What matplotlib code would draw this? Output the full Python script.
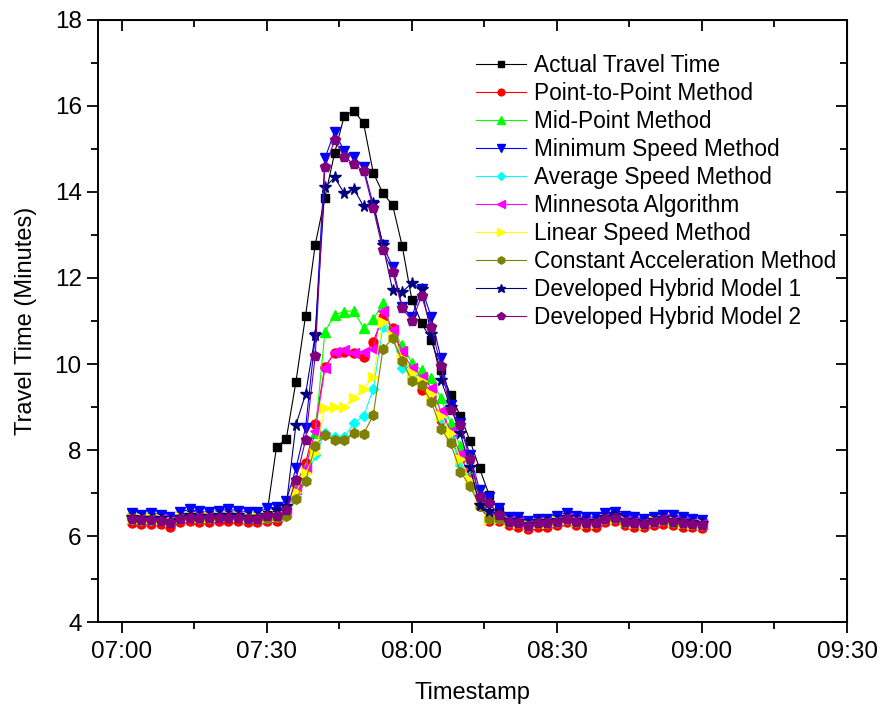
# -*- coding: utf-8 -*-
""" travel time comparison chart
"""

import numpy as np
import matplotlib
matplotlib.use("Agg")
import matplotlib.pyplot as plt
import matplotlib.ticker as ticker

plt.rcParams['font.family'] = ['Liberation Sans', 'DejaVu Sans']

# minutes after 07:00, one sample every 2 minutes (07:02 - 09:00)
minutes = np.arange(2, 121, 2)

tick_minutes = [0, 30, 60, 90, 120, 150]
minor_minutes = [15, 45, 75, 105, 135]
tick_labels = ["07:00", "07:30", "08:00", "08:30", "09:00", "09:30"]

actual = [6.44, 6.42, 6.41, 6.40, 6.36, 6.45, 6.48, 6.46, 6.46, 6.48, 6.48, 6.48, 6.45, 6.45,
          6.50, 8.08, 8.25, 9.58, 11.12, 12.77,
          13.87, 14.90, 15.77, 15.89, 15.60, 14.45, 13.97, 13.70,
          12.74, 11.49, 10.95, 10.56, 9.85, 9.28, 8.80, 8.22, 7.57, 6.95,
          6.58, 6.40, 6.37, 6.30, 6.36, 6.36, 6.39, 6.45, 6.39, 6.36, 6.36, 6.45, 6.48, 6.39,
          6.36, 6.34, 6.39, 6.42, 6.39, 6.36, 6.34, 6.32]
p2p = [6.31, 6.29, 6.29, 6.28, 6.22, 6.32, 6.35, 6.33, 6.33, 6.35, 6.35, 6.35, 6.32, 6.32,
       6.35, 6.36, 6.55, 7.19, 7.69, 8.60,
       9.94, 10.25, 10.29, 10.26, 10.17, 10.52, 11.10, 10.84,
       10.20, 9.70, 9.40, 9.25, 8.70, 8.30, 7.80, 7.30, 6.70, 6.35,
       6.36, 6.25, 6.22, 6.16, 6.22, 6.22, 6.25, 6.32, 6.25, 6.22, 6.22, 6.32, 6.35, 6.25,
       6.22, 6.20, 6.25, 6.29, 6.25, 6.22, 6.20, 6.18]
midpoint = [6.42, 6.40, 6.40, 6.39, 6.34, 6.43, 6.46, 6.44, 6.44, 6.46, 6.46, 6.46, 6.43, 6.43,
            6.45, 6.47, 6.60, 7.15, 7.61, 8.39,
            10.75, 11.14, 11.22, 11.24, 10.83, 11.04, 11.41, 10.75,
            10.44, 10.02, 9.86, 9.67, 9.20, 8.62, 8.10, 7.50, 6.90, 6.50,
            6.45, 6.36, 6.33, 6.27, 6.33, 6.33, 6.36, 6.42, 6.36, 6.33, 6.33, 6.42, 6.45, 6.36,
            6.33, 6.31, 6.36, 6.40, 6.36, 6.33, 6.31, 6.29]
min_speed = [6.53, 6.50, 6.53, 6.50, 6.45, 6.55, 6.62, 6.57, 6.55, 6.59, 6.62, 6.59, 6.55, 6.55,
             6.64, 6.68, 6.81, 7.57, 8.52, 10.63,
             14.78, 15.40, 14.95, 14.82, 14.57, 13.70, 12.77, 12.26,
             11.33, 11.10, 11.75, 11.10, 10.13, 9.05, 8.62, 7.88, 7.07, 6.90,
             6.65, 6.45, 6.44, 6.35, 6.39, 6.39, 6.47, 6.53, 6.47, 6.44, 6.44, 6.53, 6.56, 6.47,
             6.44, 6.40, 6.45, 6.50, 6.48, 6.45, 6.40, 6.37]
avg_speed = [6.40, 6.38, 6.38, 6.37, 6.32, 6.41, 6.44, 6.42, 6.42, 6.44, 6.44, 6.44, 6.41, 6.41,
             6.42, 6.44, 6.50, 6.90, 7.30, 7.88,
             8.40, 8.31, 8.31, 8.62, 8.79, 9.41, 10.87, 10.62,
             9.90, 9.75, 9.60, 9.30, 8.75, 8.30, 7.65, 7.20, 6.75, 6.45,
             6.42, 6.33, 6.30, 6.24, 6.30, 6.30, 6.33, 6.40, 6.33, 6.30, 6.30, 6.40, 6.43, 6.33,
             6.30, 6.28, 6.33, 6.37, 6.33, 6.30, 6.28, 6.26]
minnesota = [6.42, 6.40, 6.40, 6.39, 6.34, 6.43, 6.46, 6.44, 6.44, 6.46, 6.46, 6.46, 6.43, 6.43,
             6.44, 6.46, 6.55, 7.10, 7.57, 8.45,
             9.90, 10.29, 10.33, 10.26, 10.29, 10.36, 11.24, 10.80,
             10.30, 9.90, 9.70, 9.45, 8.90, 8.45, 7.90, 7.35, 6.80, 6.45,
             6.43, 6.35, 6.32, 6.26, 6.32, 6.32, 6.35, 6.41, 6.35, 6.32, 6.32, 6.41, 6.44, 6.35,
             6.32, 6.30, 6.35, 6.39, 6.35, 6.32, 6.30, 6.28]
linear_speed = [6.43, 6.41, 6.41, 6.40, 6.35, 6.44, 6.47, 6.45, 6.45, 6.47, 6.47, 6.47, 6.44, 6.44,
                6.45, 6.47, 6.50, 7.03, 7.46, 7.92,
                8.97, 8.99, 8.99, 9.20, 9.43, 9.70, 10.98, 10.65,
                10.15, 9.80, 9.60, 9.30, 8.80, 8.40, 7.80, 7.30, 6.75, 6.40,
                6.42, 6.34, 6.31, 6.25, 6.31, 6.31, 6.34, 6.40, 6.34, 6.31, 6.31, 6.40, 6.43, 6.34,
                6.31, 6.29, 6.34, 6.38, 6.34, 6.31, 6.29, 6.27]
const_accel = [6.41, 6.39, 6.39, 6.38, 6.33, 6.42, 6.45, 6.43, 6.43, 6.45, 6.45, 6.45, 6.42, 6.42,
               6.42, 6.44, 6.47, 6.85, 7.28, 8.10,
               8.35, 8.23, 8.23, 8.39, 8.37, 8.81, 10.34, 10.60,
               10.07, 9.61, 9.51, 9.12, 8.50, 8.16, 7.50, 7.16, 6.70, 6.40,
               6.40, 6.33, 6.30, 6.24, 6.30, 6.30, 6.33, 6.39, 6.33, 6.30, 6.30, 6.39, 6.42, 6.33,
               6.30, 6.28, 6.33, 6.37, 6.33, 6.30, 6.28, 6.26]
hybrid1 = [6.44, 6.42, 6.42, 6.41, 6.36, 6.45, 6.48, 6.46, 6.46, 6.48, 6.48, 6.48, 6.45, 6.45,
           6.50, 6.60, 6.70, 8.58, 9.30, 10.67,
           14.11, 14.34, 13.97, 14.07, 13.67, 13.75, 12.77, 11.72,
           11.68, 11.88, 11.74, 10.70, 9.63, 9.00, 8.39, 7.61, 6.72, 6.57,
           6.52, 6.38, 6.35, 6.28, 6.35, 6.35, 6.38, 6.45, 6.38, 6.35, 6.35, 6.45, 6.48, 6.38,
           6.35, 6.33, 6.38, 6.42, 6.38, 6.35, 6.33, 6.31]
hybrid2 = [6.39, 6.37, 6.37, 6.36, 6.31, 6.40, 6.43, 6.41, 6.41, 6.43, 6.43, 6.43, 6.40, 6.40,
           6.47, 6.47, 6.60, 7.30, 8.23, 10.19,
           14.57, 15.20, 14.82, 14.65, 14.49, 13.62, 12.65, 12.15,
           11.30, 11.00, 11.58, 10.87, 9.95, 8.93, 8.57, 7.78, 6.91, 6.76,
           6.49, 6.33, 6.30, 6.23, 6.30, 6.30, 6.33, 6.40, 6.33, 6.30, 6.30, 6.40, 6.43, 6.33,
           6.30, 6.28, 6.33, 6.37, 6.33, 6.30, 6.28, 6.26]

# (label, values, color, marker, size)
series = [
    ("Actual Travel Time", actual, "#000000", "s", 6),
    ("Point-to-Point Method", p2p, "#FF0000", "o", 6.5),
    ("Mid-Point Method", midpoint, "#00FF00", "^", 7),
    ("Minimum Speed Method", min_speed, "#0000FF", "v", 7),
    ("Average Speed Method", avg_speed, "#00FFFF", "D", 5.5),
    ("Minnesota Algorithm", minnesota, "#FF00FF", "<", 7),
    ("Linear Speed Method", linear_speed, "#FFFF00", ">", 7),
    ("Constant Acceleration Method", const_accel, "#808000", "h", 7),
    ("Developed Hybrid Model 1", hybrid1, "#000080", "*", 8.5),
    ("Developed Hybrid Model 2", hybrid2, "#800080", "p", 7.5),
]

fig = plt.figure(figsize=(8.8, 7.09), dpi=100)
ax = fig.add_axes([0.111, 0.1227, 0.8515, 0.8491])

for label, values, color, marker, ms in series:
    ax.plot(minutes, values, color=color, lw=0.8, marker=marker, ms=ms,
            markeredgecolor=color, label=label)

ax.set_xlim(-5, 150)
ax.set_ylim(4, 18)
ax.xaxis.set_major_locator(ticker.FixedLocator(tick_minutes))
ax.xaxis.set_minor_locator(ticker.FixedLocator(minor_minutes))
ax.set_xticklabels(tick_labels)
ax.yaxis.set_major_locator(ticker.MultipleLocator(2))
ax.yaxis.set_minor_locator(ticker.MultipleLocator(1))

ax.tick_params(which='both', direction='out', labelsize=17.5, width=1.3,
               top=False, right=False)
ax.tick_params(which='major', length=8)
ax.tick_params(which='minor', length=5)
ax.tick_params(axis='x', pad=6)
for s in ax.spines.values():
    s.set_linewidth(1.4)

# inward mirrored ticks on right/top
ax_r = ax.secondary_yaxis('right')
ax_r.yaxis.set_major_locator(ticker.MultipleLocator(2))
ax_r.yaxis.set_minor_locator(ticker.MultipleLocator(1))
ax_r.tick_params(which='both', direction='in', labelright=False, width=1.3)
ax_r.tick_params(which='major', length=8)
ax_r.tick_params(which='minor', length=5)
ax_t = ax.secondary_xaxis('top')
ax_t.xaxis.set_major_locator(ticker.FixedLocator(tick_minutes))
ax_t.xaxis.set_minor_locator(ticker.FixedLocator(minor_minutes))
ax_t.tick_params(which='both', direction='in', labeltop=False, width=1.3)
ax_t.tick_params(which='major', length=8)
ax_t.tick_params(which='minor', length=5)

ax.set_xlabel("Timestamp", fontsize=17, labelpad=13)
ax.set_ylabel("Travel Time (Minutes)", fontsize=17, labelpad=13)

ax.legend(loc='upper left', bbox_to_anchor=(476 / 880, 1 - 54 / 709),
          bbox_transform=fig.transFigure, frameon=False, fontsize=16.3,
          numpoints=1, handlelength=2.2, handletextpad=0.35,
          labelspacing=0.22, borderpad=0, borderaxespad=0, markerscale=0.75)

fig.savefig("out.png", dpi=100)
